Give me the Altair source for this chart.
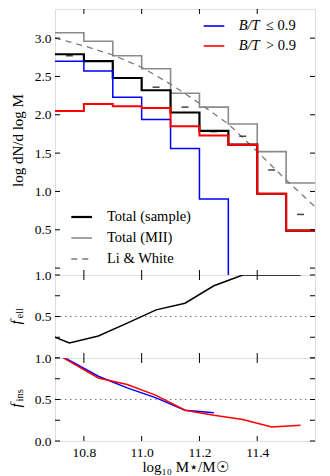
import altair as alt
import pandas as pd

# ---------------- data ----------------
edges = [10.7, 10.8, 10.9, 11.0, 11.1, 11.2, 11.3, 11.4, 11.5, 11.6]
total_mii = [3.07, 2.96, 2.77, 2.60, 2.28, 2.10, 1.88, 1.52, 1.11]
total_sample = [2.79, 2.70, 2.48, 2.32, 2.03, 1.79, 1.61, 0.97, 0.49]
bt_low = [2.70, 2.57, 2.23, 1.94, 1.56, 0.90, None, None, None]   # empty bins -> log(0)
bt_high = [2.05, 2.14, 2.11, 2.09, 1.85, 1.73, 1.61, 0.97, 0.49]
LOG_FLOOR = -1.0  # stands in for log10(0) of empty bins (clipped away)

lw_mass = [10.7, 10.8, 10.9, 11.0, 11.1, 11.2, 11.3, 11.4, 11.5, 11.6]
lw_curve = [3.00, 2.90, 2.78, 2.62, 2.40, 2.15, 1.88, 1.52, 1.15, 0.80]
lw_pt_mass = [10.75, 11.05, 11.15, 11.25, 11.35, 11.45, 11.55]
lw_pt_val = [2.77, 2.36, 2.10, 1.78, 1.72, 1.28, 0.70]

frac_mass = [10.65, 10.75, 10.85, 10.95, 11.05, 11.15, 11.25, 11.35, 11.45, 11.55]
f_ell = [0.32, 0.18, 0.265, 0.42, 0.58, 0.66, 0.87, 1.0, 1.0, 1.0]
fins_low_mass = [10.65, 10.75, 10.85, 10.95, 11.05, 11.15, 11.25]
f_ins_low = [1.17, 0.97, 0.78, 0.64, 0.52, 0.37, 0.34]
f_ins_high = [1.16, 0.96, 0.76, 0.68, 0.55, 0.37, 0.31, 0.26, 0.17, 0.19]

x_ticks = [10.8, 11.0, 11.2, 11.4]
top_ticks = [0.0, 0.5, 1.0, 1.5, 2.0, 2.5, 3.0]
top_labels = [0.5, 1.0, 1.5, 2.0, 2.5, 3.0]
frac_ticks = [0.0, 0.25, 0.5, 0.75, 1.0]
ell_labels = [0.5, 1.0]
ins_labels = [0.0, 0.5, 1.0]

bt_legend = ["≤ 0.9", "> 0.9"]
tot_legend = ["Total (sample)", "Total (MII)", "Li & White"]

# ---------------- style ----------------
FONT = "Liberation Serif"
LBL = 13.5
W = 260
H_TOP, H_MID, H_BOT = 266, 83, 83
BLUE, RED, GRAY, DGRAY = "#0000ff", "#ff0000", "#8a8a8a", "#444444"
XDOM = [10.7, 11.6]
xs = alt.Scale(domain=XDOM, nice=False, zero=False)

x_axis_bottom = alt.Axis(values=x_ticks, format=".1f", tickSize=0, domain=False, grid=False, labelPadding=4,
                         labelFont=FONT, labelFontSize=LBL, labelColor="black",
                         title="log₁₀ M⋆/M☉", titleFont=FONT, titleFontSize=15, titleFontWeight="normal",
                         titleColor="black", titlePadding=1)


def step_df(vals):
    ys = [LOG_FLOOR if v is None else v for v in vals]
    return pd.DataFrame({"m": edges, "v": ys + [ys[-1]]})


def inner_ticks(h, yscale, yticks, xaxis, yaxis):
    xt = pd.DataFrame({"m": x_ticks})
    yt = pd.DataFrame({"v": yticks})
    base_x = alt.Chart(xt).mark_rule(color="black", strokeWidth=1)
    base_y = alt.Chart(yt).mark_rule(color="black", strokeWidth=1)
    return [
        base_x.encode(x=alt.X("m:Q", scale=xs, axis=xaxis), y=alt.value(h - 5), y2=alt.value(h)),
        base_x.encode(x=alt.X("m:Q", scale=xs, axis=xaxis), y=alt.value(0), y2=alt.value(5)),
        base_y.encode(y=alt.Y("v:Q", scale=yscale, axis=yaxis), x=alt.value(0), x2=alt.value(5)),
        base_y.encode(y=alt.Y("v:Q", scale=yscale, axis=yaxis), x=alt.value(W - 5), x2=alt.value(W)),
    ]


# ---------------- top panel ----------------
ytop_scale = alt.Scale(domain=[-0.09, 3.38], nice=False, zero=False)
ytop_axis = alt.Axis(values=top_labels, format=".1f", tickSize=0, domain=False, grid=False,
                     labelPadding=4, labelFont=FONT, labelFontSize=LBL, labelColor="black",
                     title="log dN/d log M", titleFont=FONT, titleFontSize=15,
                     titleFontWeight="normal", titleColor="black", titleAngle=270,
                     titleX=-38, titleY=131, titleAlign="center", titleBaseline="middle")

XT = alt.X("m:Q", scale=xs, axis=None)
YT = alt.Y("v:Q", scale=ytop_scale, axis=ytop_axis)


def step_line(vals, color, width, dash=None):
    kw = dict(interpolate="step-after", color=color, strokeWidth=width, clip=True)
    if dash:
        kw["strokeDash"] = dash
    return alt.Chart(step_df(vals)).mark_line(**kw).encode(x=XT, y=YT)


mii = step_line(total_mii, GRAY, 1.6)
lw_line = alt.Chart(pd.DataFrame({"m": lw_mass, "v": lw_curve})).mark_line(
    color="#7a7a7a", strokeWidth=1.3, strokeDash=[6, 5], clip=True).encode(x=XT, y=YT)
lw_pts = alt.Chart(pd.DataFrame({"m": lw_pt_mass, "v": lw_pt_val})).mark_point(
    shape="M -1 0 L 1 0", size=49, filled=False, color=DGRAY, strokeWidth=1.5, opacity=1).encode(x=XT, y=YT)
sample = step_line(total_sample, "black", 2.2)
blue_h = step_line(bt_low, BLUE, 1.5)
red_h = step_line(bt_high, RED, 2.0)

legend_layers = []
for i, (lab, col) in enumerate(zip(bt_legend, [BLUE, RED])):
    yy = 17 + 20 * i
    legend_layers.append(alt.Chart(pd.DataFrame({"l": [lab]})).mark_rule(color=col, strokeWidth=1.6).encode(
        x=alt.value(148.7), x2=alt.value(169.3), y=alt.value(yy)))
    legend_layers.append(alt.Chart(pd.DataFrame({"l": ["B/T"]})).mark_text(
        font=FONT, fontSize=14.5, fontStyle="italic", align="left", baseline="middle", color="black").encode(
        x=alt.value(183.7), y=alt.value(yy), text="l:N"))
    legend_layers.append(alt.Chart(pd.DataFrame({"l": [lab]})).mark_text(
        font=FONT, fontSize=14.5, align="left", baseline="middle", color="black").encode(
        x=alt.value(211), y=alt.value(yy), text="l:N"))

tot_styles = [("black", 2.2, None), (GRAY, 1.6, None), ("#7a7a7a", 1.3, [6, 5])]
for i, (lab, (col, wid, dash)) in enumerate(zip(tot_legend, tot_styles)):
    yy = 208 + 21 * i
    kw = dict(color=col, strokeWidth=wid)
    if dash:
        kw["strokeDash"] = dash
    legend_layers.append(alt.Chart(pd.DataFrame({"l": [lab]})).mark_rule(**kw).encode(
        x=alt.value(16.3), x2=alt.value(37), y=alt.value(yy)))
    legend_layers.append(alt.Chart(pd.DataFrame({"l": [lab]})).mark_text(
        font=FONT, fontSize=14.5, align="left", baseline="middle", color="black").encode(
        x=alt.value(52), y=alt.value(yy), text="l:N"))

top = alt.layer(mii, lw_line, lw_pts, sample, blue_h, red_h, *legend_layers,
                *inner_ticks(H_TOP, ytop_scale, top_ticks, None, ytop_axis)).properties(width=W, height=H_TOP)

# ---------------- fraction panels ----------------
frac_scale = alt.Scale(domain=[0, 1], nice=False, zero=False)


def frac_axis(labels):
    return alt.Axis(values=labels, format=".1f", tickSize=0, domain=False, grid=False,
                    labelPadding=4, labelFont=FONT, labelFontSize=LBL, labelColor="black", title=None)


def sub_title(main, sub, h):
    c = h / 2
    return [
        alt.Chart(pd.DataFrame({"l": [main]})).mark_text(
            font=FONT, fontSize=15, fontStyle="italic", angle=270, align="left", baseline="middle",
            color="black").encode(x=alt.value(-39), y=alt.value(c + 8), text="l:N"),
        alt.Chart(pd.DataFrame({"l": [sub]})).mark_text(
            font=FONT, fontSize=10.5, angle=270, align="left", baseline="middle",
            color="black").encode(x=alt.value(-35), y=alt.value(c + 2), text="l:N"),
    ]


half_line = pd.DataFrame({"v": [0.5]})

# middle panel (f_ell)
ell_axis = frac_axis(ell_labels)
YM = alt.Y("v:Q", scale=frac_scale, axis=ell_axis)
mid_dotted = alt.Chart(half_line).mark_rule(color="#777777", strokeDash=[1.5, 3.5], strokeWidth=1).encode(
    y=YM, x=alt.value(0), x2=alt.value(W))
ell_line = alt.Chart(pd.DataFrame({"m": frac_mass, "v": f_ell})).mark_line(
    color="black", strokeWidth=1.5, clip=True).encode(x=XT, y=YM)
mid = alt.layer(mid_dotted, ell_line, *sub_title("f", "ell", H_MID),
                *inner_ticks(H_MID, frac_scale, frac_ticks, None, ell_axis)).properties(width=W, height=H_MID)

# bottom panel (f_ins)
ins_axis = frac_axis(ins_labels)
YB = alt.Y("v:Q", scale=frac_scale, axis=ins_axis)
XB = alt.X("m:Q", scale=xs, axis=x_axis_bottom)
bot_dotted = alt.Chart(half_line).mark_rule(color="#777777", strokeDash=[1.5, 3.5], strokeWidth=1).encode(
    y=YB, x=alt.value(0), x2=alt.value(W))
ins_blue = alt.Chart(pd.DataFrame({"m": fins_low_mass, "v": f_ins_low})).mark_line(
    color=BLUE, strokeWidth=1.5, clip=True).encode(x=XB, y=YB)
ins_red = alt.Chart(pd.DataFrame({"m": frac_mass, "v": f_ins_high})).mark_line(
    color=RED, strokeWidth=1.5, clip=True).encode(x=XB, y=YB)
bot = alt.layer(bot_dotted, ins_blue, ins_red, *sub_title("f", "ins", H_BOT),
                *inner_ticks(H_BOT, frac_scale, frac_ticks, x_axis_bottom, ins_axis)).properties(width=W, height=H_BOT)

chart = alt.vconcat(top, mid, bot, spacing=0, bounds="flush").properties(
    padding={"left": 0, "top": 0, "right": 0, "bottom": 0}
).configure_view(stroke="black", strokeWidth=1.2).configure(background="white")

chart.save("out.html", embed_options={"renderer": "svg", "actions": False})
